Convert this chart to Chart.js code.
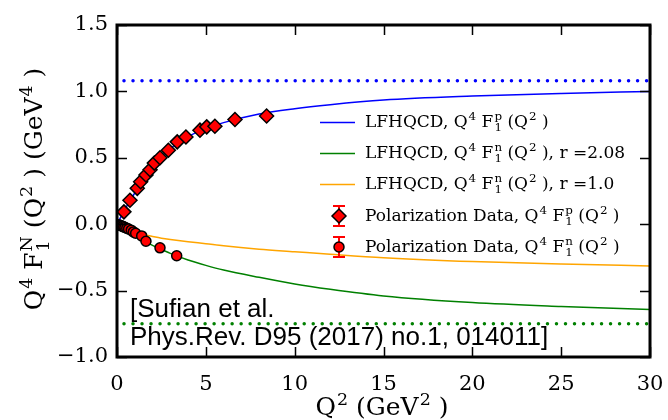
<!DOCTYPE html>
<html>
<head>
<meta charset="utf-8">
<script src="https://cdn.jsdelivr.net/npm/chart.js@4.4.0/dist/chart.umd.min.js"></script>
<style>
html, body { margin: 0; padding: 0; background: #fff; }
</style>
</head>
<body>
<canvas id="myChart" width="668" height="420"></canvas>
<script>
// values
var xTickValues = [0, 5, 10, 15, 20, 25, 30];
var yTickValues = [-1.0, -0.5, 0.0, 0.5, 1.0, 1.5];

var curveQ2 = [0, 0.5, 1, 1.5, 2, 2.5, 3, 4, 5, 6, 8, 10, 12, 15, 20, 25, 30];
var protonCurve = [0, 0.125, 0.235, 0.345, 0.435, 0.51, 0.57, 0.66, 0.72, 0.765, 0.83, 0.87, 0.90, 0.935, 0.965, 0.985, 1.0];
var neutronCurve208 = [0, -0.05, -0.09, -0.125, -0.16, -0.19, -0.22, -0.27, -0.31, -0.345, -0.40, -0.45, -0.49, -0.54, -0.59, -0.62, -0.643];
var neutronCurve10 = [0, -0.035, -0.06, -0.078, -0.092, -0.105, -0.115, -0.132, -0.147, -0.163, -0.188, -0.207, -0.226, -0.252, -0.281, -0.300, -0.314];

var limitQ2 = [0, 30];
var protonLimit = [1.08, 1.08];
var neutronLimit = [-0.75, -0.75];

var protonQ2 = [0.39, 0.73, 1.14, 1.33, 1.63, 1.86, 2.1, 2.42, 2.89, 3.39, 3.88, 4.67, 5.05, 5.51, 6.64, 8.42];
var protonData = [0.093, 0.18, 0.27, 0.32, 0.37, 0.41, 0.46, 0.50, 0.557, 0.62, 0.657, 0.708, 0.733, 0.738, 0.788, 0.815];

var neutronQ2 = [0.1, 0.17, 0.24, 0.31, 0.38, 0.45, 0.55, 0.65, 0.8, 0.92, 1.05, 1.39, 1.63, 2.42, 3.36];
var neutronData = [-0.004, -0.008, -0.012, -0.016, -0.02, -0.024, -0.03, -0.036, -0.045, -0.058, -0.068, -0.088, -0.128, -0.178, -0.238];

var legendRows = [
    ['LFHQCD, Q', {sup: '4'}, ' F', {sup: 'p', sub: '1'}, ' (Q', {sup: '2'}, ' )'],
    ['LFHQCD, Q', {sup: '4'}, ' F', {sup: 'n', sub: '1'}, ' (Q', {sup: '2'}, ' ), r =2.08'],
    ['LFHQCD, Q', {sup: '4'}, ' F', {sup: 'n', sub: '1'}, ' (Q', {sup: '2'}, ' ), r =1.0'],
    ['Polarization Data, Q', {sup: '4'}, ' F', {sup: 'p', sub: '1'}, ' (Q', {sup: '2'}, ' )'],
    ['Polarization Data, Q', {sup: '4'}, ' F', {sup: 'n', sub: '1'}, ' (Q', {sup: '2'}, ' )']
];
var xTitle = ['Q', {sup: '2'}, ' (GeV', {sup: '2'}, ' )'];
var yTitle = ['Q', {sup: '4'}, ' F', {sup: 'N', sub: '1'}, ' (Q', {sup: '2'}, ' ) (GeV', {sup: '4'}, ' )'];
var noteLines = ['[Sufian et al.', 'Phys.Rev. D95 (2017) no.1, 014011]'];

function pts(xs, ys) {
    return xs.map(function (x, i) { return {x: x, y: ys[i]}; });
}

var SERIF = '"DejaVu Serif", serif';

// text with stacked super/subscripts, returns width
function rich(ctx, segs, x, y, size, draw) {
    var cx = x;
    segs.forEach(function (s) {
        if (typeof s === 'string') {
            ctx.font = size + 'px ' + SERIF;
            if (draw) ctx.fillText(s, cx, y);
            cx += ctx.measureText(s).width;
        } else {
            var ss = size * 0.7, w = 0;
            ctx.font = ss + 'px ' + SERIF;
            if (s.sup) {
                if (draw) ctx.fillText(s.sup, cx + 1, y - size * 0.42);
                w = ctx.measureText(s.sup).width;
            }
            if (s.sub) {
                if (draw) ctx.fillText(s.sub, cx + 1, y + size * 0.26);
                w = Math.max(w, ctx.measureText(s.sub).width);
            }
            cx += w + 1;
        }
    });
    return cx - x;
}

var decorations = {
    id: 'decorations',
    afterDatasetsDraw: function (chart) {
        var ctx = chart.ctx, a = chart.chartArea;
        var xs = chart.scales.x, ys = chart.scales.y;
        var ds = chart.data.datasets;
        ctx.save();
        ctx.strokeStyle = '#000';
        ctx.lineWidth = 1.5;
        ctx.beginPath();
        xTickValues.forEach(function (v) {
            var px = Math.round(xs.getPixelForValue(v)) + 0.5;
            ctx.moveTo(px, a.bottom); ctx.lineTo(px, a.bottom - 10);
            ctx.moveTo(px, a.top); ctx.lineTo(px, a.top + 10);
        });
        yTickValues.forEach(function (v) {
            var py = Math.round(ys.getPixelForValue(v)) + 0.5;
            ctx.moveTo(a.left, py); ctx.lineTo(a.left + 10, py);
            ctx.moveTo(a.right, py); ctx.lineTo(a.right - 10, py);
        });
        ctx.stroke();
        ctx.lineWidth = 3;
        ctx.strokeRect(a.left, a.top, a.right - a.left, a.bottom - a.top);

        // legend
        ctx.fillStyle = '#fff';
        ctx.fillRect(314, 108, 326, 144);
        var rowY = [122, 153, 184, 216, 247];
        ctx.textBaseline = 'alphabetic';
        for (var i = 0; i < 5; i++) {
            var d = ds[i < 3 ? i : i + 2];
            var y = rowY[i];
            if (i < 3) {
                ctx.strokeStyle = d.borderColor;
                ctx.lineWidth = 1.5;
                ctx.beginPath();
                ctx.moveTo(320, y + 0.5); ctx.lineTo(355, y + 0.5);
                ctx.stroke();
            } else {
                ctx.strokeStyle = '#ff0000';
                ctx.lineWidth = 2;
                ctx.beginPath();
                ctx.moveTo(339, y - 10); ctx.lineTo(339, y + 10);
                ctx.moveTo(333, y - 10); ctx.lineTo(345, y - 10);
                ctx.moveTo(333, y + 10); ctx.lineTo(345, y + 10);
                ctx.stroke();
                ctx.fillStyle = d.backgroundColor;
                ctx.strokeStyle = d.borderColor;
                ctx.lineWidth = d.borderWidth;
                ctx.beginPath();
                if (d.pointStyle === 'rectRot') {
                    ctx.moveTo(332, y); ctx.lineTo(339, y - 7); ctx.lineTo(346, y); ctx.lineTo(339, y + 7);
                    ctx.closePath();
                } else {
                    ctx.arc(339, y, 5, 0, Math.PI * 2);
                }
                ctx.fill(); ctx.stroke();
            }
            ctx.fillStyle = '#000';
            rich(ctx, legendRows[i], 365, y + 5, 17, true);
        }

        // reference note
        ctx.fillStyle = '#000';
        ctx.font = '26px "Liberation Sans", Arial, sans-serif';
        ctx.fillText(noteLines[0], 130, 317);
        ctx.fillText(noteLines[1], 130, 345);

        // axis titles
        var w = rich(ctx, xTitle, 0, 0, 25, false);
        rich(ctx, xTitle, 382 - w / 2, 415, 25, true);
        ctx.translate(42, 189);
        ctx.rotate(-Math.PI / 2);
        w = rich(ctx, yTitle, 0, 0, 25, false);
        rich(ctx, yTitle, -w / 2, 0, 25, true);
        ctx.restore();
    }
};

var chartPlaceholder = document.getElementById('myChart');
var newChart = new Chart(chartPlaceholder, {
    type: 'scatter',
    data: {
        datasets: [
            {
                type: 'line', label: 'LFHQCD p', data: pts(curveQ2, protonCurve),
                borderColor: '#0000ff', borderWidth: 1.5, pointRadius: 0,
                cubicInterpolationMode: 'monotone', fill: false, order: 2
            },
            {
                type: 'line', label: 'LFHQCD n r=2.08', data: pts(curveQ2, neutronCurve208),
                borderColor: '#008000', borderWidth: 1.5, pointRadius: 0,
                cubicInterpolationMode: 'monotone', fill: false, order: 2
            },
            {
                type: 'line', label: 'LFHQCD n r=1.0', data: pts(curveQ2, neutronCurve10),
                borderColor: '#ffa500', borderWidth: 1.5, pointRadius: 0,
                cubicInterpolationMode: 'monotone', fill: false, order: 2
            },
            {
                type: 'line', label: 'p limit', data: pts(limitQ2, protonLimit),
                borderColor: '#0000ff', borderWidth: 3.5, pointRadius: 0,
                borderDash: [0.01, 9], borderCapStyle: 'round', borderDashOffset: -7, order: 3
            },
            {
                type: 'line', label: 'n limit', data: pts(limitQ2, neutronLimit),
                borderColor: '#008000', borderWidth: 3.5, pointRadius: 0,
                borderDash: [0.01, 9], borderCapStyle: 'round', borderDashOffset: -7, order: 3
            },
            {
                label: 'Polarization p', data: pts(protonQ2, protonData),
                pointStyle: 'rectRot', pointRadius: 7, backgroundColor: '#ff0000',
                borderColor: '#000', borderWidth: 1.5, order: 0
            },
            {
                label: 'Polarization n', data: pts(neutronQ2, neutronData),
                pointStyle: 'circle', pointRadius: 5, backgroundColor: '#ff0000',
                borderColor: '#000', borderWidth: 1.5, order: 1
            }
        ]
    },
    options: {
        responsive: false,
        animation: false,
        events: [],
        devicePixelRatio: 1,
        layout: { padding: { top: 25, right: 18, left: 0, bottom: 0 } },
        plugins: { legend: { display: false }, tooltip: { enabled: false } },
        scales: {
            x: {
                type: 'linear', min: 0, max: 30,
                afterBuildTicks: function (s) { s.ticks = xTickValues.map(function (v) { return {value: v}; }); },
                afterFit: function (s) { s.height = 63; s.paddingLeft = 0; s.paddingRight = 0; },
                grid: { display: false, drawTicks: false },
                border: { display: false },
                ticks: {
                    color: '#000', padding: 15, maxRotation: 0,
                    font: { family: 'DejaVu Serif', size: 21 },
                    callback: function (v) { return String(v); }
                }
            },
            y: {
                type: 'linear', min: -1, max: 1.5,
                afterBuildTicks: function (s) { s.ticks = yTickValues.map(function (v) { return {value: v}; }); },
                afterFit: function (s) { s.width = 117; s.paddingTop = 0; s.paddingBottom = 0; },
                grid: { display: false, drawTicks: false },
                border: { display: false },
                ticks: {
                    color: '#000', padding: 9,
                    font: { family: 'DejaVu Serif', size: 21 },
                    callback: function (v) { return (v < 0 ? '\u2212' : '') + Math.abs(v).toFixed(1); }
                }
            }
        }
    },
    plugins: [decorations]
});
</script>
</body>
</html>
